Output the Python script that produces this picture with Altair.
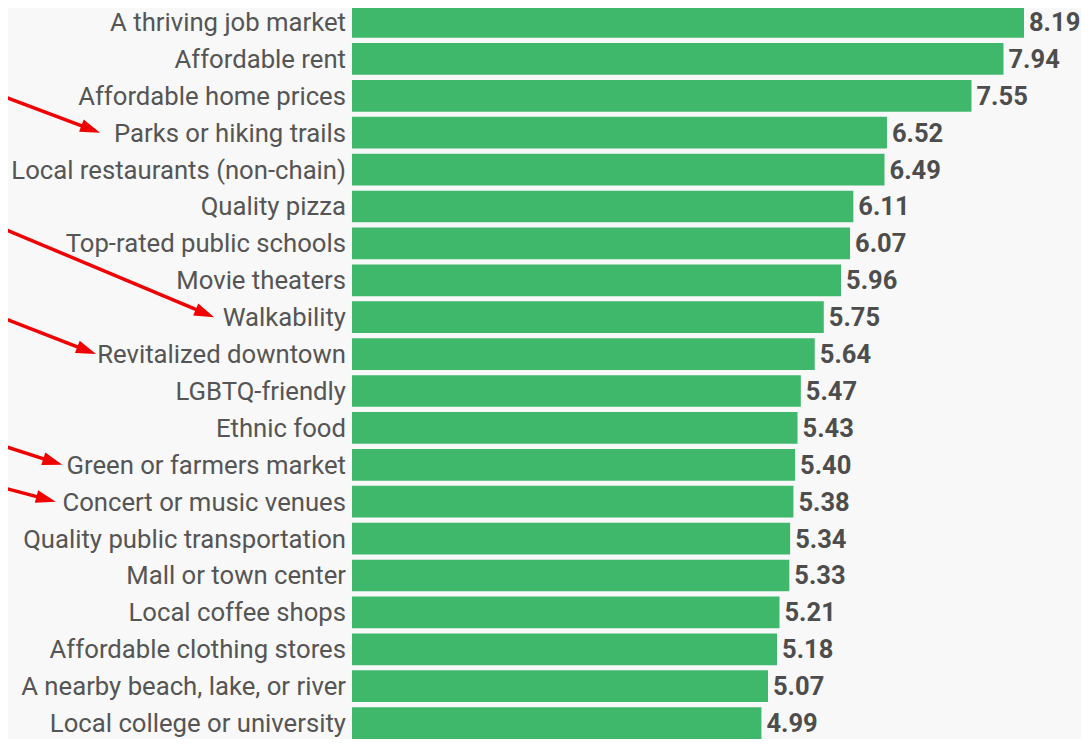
import math
import altair as alt
import pandas as pd

labels = [
    "A thriving job market", "Affordable rent", "Affordable home prices",
    "Parks or hiking trails", "Local restaurants (non-chain)", "Quality pizza\u00a0",
    "Top-rated public schools", "Movie theaters", "Walkability",
    "Revitalized downtown", "LGBTQ-friendly", "Ethnic food",
    "Green or farmers market", "Concert or music venues",
    "Quality public transportation", "Mall or town center",
    "Local coffee shops", "Affordable clothing stores",
    "A nearby beach, lake, or river", "Local college or university",
]
values = [8.19, 7.94, 7.55, 6.52, 6.49, 6.11, 6.07, 5.96, 5.75, 5.64,
          5.47, 5.43, 5.40, 5.38, 5.34, 5.33, 5.21, 5.18, 5.07, 4.99]

# annotation arrows (x in value units, y in row units)
arrow_targets = ["Parks or hiking trails", "Walkability", "Revitalized downtown",
                 "Green or farmers market", "Concert or music venues"]
arrow_tip_x = [-3.07, -1.68, -3.12, -3.53, -3.61]
arrow_tail_x = [-4.29, -4.29, -4.29, -4.29, -4.29]
arrow_tail_row = [1.98, 5.56, 7.99, 11.46, 12.60]

W, H = 729, 731
PX_X = 82.05
X_MAX = W / PX_X
PX_Y = 36.9
ROW_TOP = -0.3794
ROW_BOTTOM = ROW_TOP + H / PX_Y
HALF = 0.43

df = pd.DataFrame({"label": labels, "value": values})
df["row"] = range(len(labels))
df["r0"] = df["row"] - HALF
df["r1"] = df["row"] + HALF
df["zero"] = 0.0

rows = []
for t, tx, sx, sr in zip(arrow_targets, arrow_tip_x, arrow_tail_x, arrow_tail_row):
    tr = float(labels.index(t))
    dxp = (tx - sx) * PX_X
    dyp = (tr - sr) * PX_Y
    ang = math.degrees(math.atan2(dyp, dxp))
    L = math.hypot(dxp, dyp)
    back = 9.0
    ex = tx - back * (dxp / L) / PX_X
    ey = tr - back * (dyp / L) / PX_Y
    rows.append({"tx": tx, "ty": tr, "sx": sx, "sy": sr, "ex": ex, "ey": ey, "angle": ang})
arrows = pd.DataFrame(rows)

xscale = alt.Scale(domain=[0, X_MAX], nice=False, zero=True)
yscale = alt.Scale(domain=[ROW_TOP, ROW_BOTTOM], nice=False, zero=False, reverse=True)

bars = alt.Chart(df).mark_bar(color="#40b86c").encode(
    x=alt.X("zero:Q", scale=xscale, axis=None),
    x2="value:Q",
    y=alt.Y("r0:Q", scale=yscale, axis=None),
    y2="r1:Q",
)
values_txt = alt.Chart(df).mark_text(
    align="left", baseline="middle", dx=5, dy=1, font="Roboto", fontSize=25.5,
    fontWeight="bold", color="#4d4d4d",
).encode(
    x=alt.X("value:Q", scale=xscale, axis=None),
    y=alt.Y("row:Q", scale=yscale, axis=None),
    text=alt.Text("value:Q", format=".2f"),
)
labels_txt = alt.Chart(df).mark_text(
    align="right", baseline="middle", dx=-6, dy=1, font="Roboto", fontSize=25.7,
    color="#555555",
).encode(
    x=alt.X("zero:Q", scale=xscale, axis=None),
    y=alt.Y("row:Q", scale=yscale, axis=None),
    text="label:N",
)

lines = alt.Chart(arrows).mark_rule(color="#f00000", strokeWidth=3.5).encode(
    x=alt.X("sx:Q", scale=xscale, axis=None),
    x2="ex:Q",
    y=alt.Y("sy:Q", scale=yscale, axis=None),
    y2="ey:Q",
)
heads = alt.Chart(arrows).mark_point(
    shape="M0,0L-2,-0.65L-2,0.65Z", filled=True, color="#f00000", opacity=1, size=400,
).encode(
    x=alt.X("tx:Q", scale=xscale, axis=None),
    y=alt.Y("ty:Q", scale=yscale, axis=None),
    angle=alt.Angle("angle:Q", scale=None),
)

chart = alt.layer(bars, values_txt, labels_txt, lines, heads).properties(
    width=W, height=H,
    autosize=alt.AutoSizeParams(type="none"),
    padding={"left": 344, "top": 0, "right": 0, "bottom": 0},
    background="#f8f8f8",
).configure_view(stroke=None)

chart.save("out.html", embed_options={"renderer": "svg", "actions": False})
